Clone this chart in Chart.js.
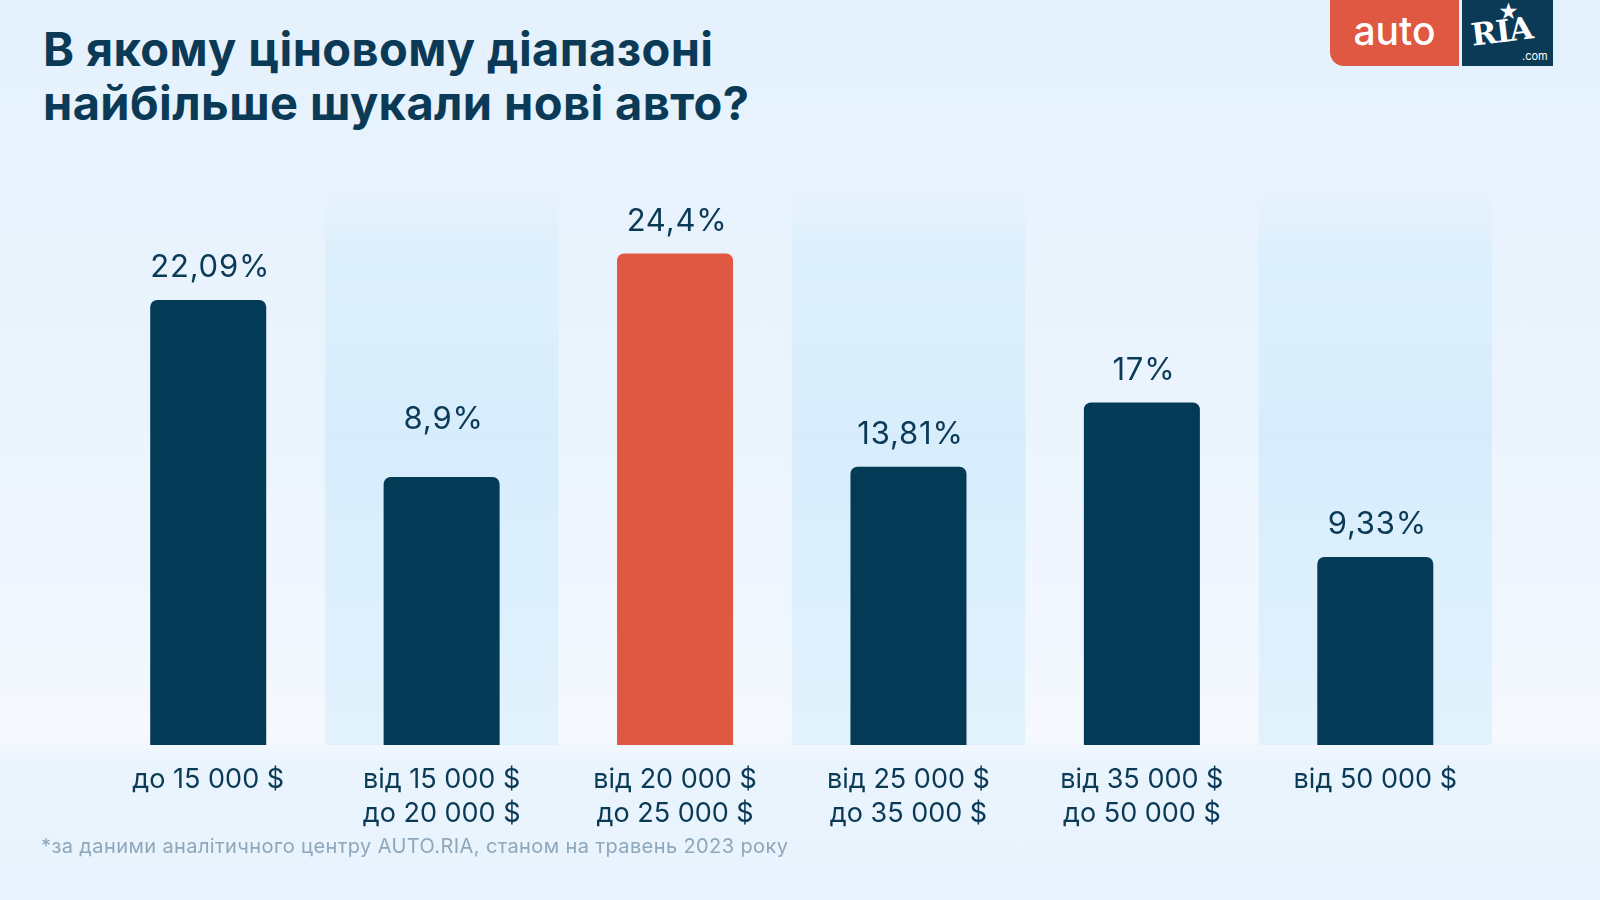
<!DOCTYPE html>
<html lang="uk">
<head>
<meta charset="utf-8">
<script src="https://cdn.jsdelivr.net/npm/chart.js@4.4.1/dist/chart.umd.min.js"></script>
<style>
  html, body { margin: 0; padding: 0; }
  body {
    width: 1600px; height: 900px; overflow: hidden; position: relative;
    font-family: Inter, "Noto Sans", sans-serif;
    background: linear-gradient(to bottom, #e4f1fc 0px, #ebf4fd 400px, #f1f7fe 650px, #f6f9fe 735px, #eaf4fd 765px, #e8f3fd 900px);
  }
  #title {
    position: absolute; left: 43px; top: 22px; margin: 0;
    font-family: Inter, sans-serif; font-weight: 700; font-size: 47px; line-height: 54px;
    color: #0b3a57; letter-spacing: 0.4px;
  }
  #foot {
    position: absolute; left: 41px; top: 834px;
    font-family: Inter, sans-serif; font-size: 20px; color: #8ea7bb; letter-spacing: 0.4px;
  }
  #logoAuto {
    position: absolute; left: 1330px; top: 0; width: 129px; height: 66px;
    background: #df5841; border-bottom-left-radius: 14px;
    color: #fff; font-family: Inter, sans-serif; font-weight: 500; font-size: 39px;
    text-align: center; line-height: 62px;
  }
  #logoRia {
    position: absolute; left: 1462px; top: 0; width: 91px; height: 66px;
    background: #0b3a57; color: #fff;
  }
  #logoRia .ria {
    position: absolute; left: 9px; top: 13px; font-family: "DejaVu Serif", serif; font-weight: 700;
    font-size: 31px; letter-spacing: -1px; transform: rotate(-7deg);
  }
  #logoRia .star { position: absolute; left: 36px; top: 0px; font-size: 20px; }
  #logoRia .com { position: absolute; left: 60px; top: 49px; font-size: 11px; font-family: Inter, sans-serif; }
  canvas { position: absolute; left: 0; top: 0; }
</style>
</head>
<body>
<h1 id="title">В якому ціновому діапазоні<br>найбільше шукали нові авто?</h1>
<div id="logoAuto">auto</div>
<div id="logoRia"><span class="star">★</span><span class="ria">RIA</span><span class="com">.com</span></div>
<canvas id="c" width="1600" height="900"></canvas>
<div id="foot">*за даними аналітичного центру AUTO.RIA, станом на травень 2023 року</div>
<script>
const categories = [
  ['до 15 000 $'],
  ['від 15 000 $', 'до 20 000 $'],
  ['від 20 000 $', 'до 25 000 $'],
  ['від 25 000 $', 'до 35 000 $'],
  ['від 35 000 $', 'до 50 000 $'],
  ['від 50 000 $']
];
// bar heights as drawn in the picture (percent units)
const barValues = [22.09, 13.3, 24.4, 13.81, 17, 9.33];
// value labels as printed above bars
const valueLabels = ['22,09%', '8,9%', '24,4%', '13,81%', '17%', '9,33%'];
const barColors = ['#033a55', '#033a55', '#df5841', '#033a55', '#033a55', '#033a55'];
const bandedCategories = [1, 3, 5];
const yMax = 27.6;

// label placement style (px above bar top), second label sits higher in the original
const labelGap = 32;
const labelExtraLift = { 1: 25 };

const bandPlugin = {
  id: 'bands',
  beforeDatasetsDraw(chart) {
    const { ctx, chartArea, scales } = chart;
    const x = scales.x;
    const step = (chartArea.right - chartArea.left) / categories.length;
    const g = ctx.createLinearGradient(0, chartArea.top, 0, chartArea.bottom);
    g.addColorStop(0, 'rgba(217,238,252,0)');
    g.addColorStop(0.12, 'rgba(217,238,252,0.8)');
    g.addColorStop(0.45, 'rgba(215,237,252,1)');
    g.addColorStop(1, 'rgba(226,242,253,1)');
    ctx.save();
    ctx.fillStyle = g;
    bandedCategories.forEach(i => {
      const cx = x.getPixelForValue(i);
      ctx.fillRect(cx - step / 2, chartArea.top, step, chartArea.bottom - chartArea.top);
    });
    ctx.restore();
  }
};

const valueLabelPlugin = {
  id: 'valueLabels',
  afterDatasetsDraw(chart) {
    const { ctx } = chart;
    const meta = chart.getDatasetMeta(0);
    ctx.save();
    ctx.font = '400 31px Inter, sans-serif';
    if ('letterSpacing' in ctx) ctx.letterSpacing = '0.8px';
    ctx.fillStyle = '#0b3a57';
    ctx.textAlign = 'center';
    ctx.textBaseline = 'middle';
    meta.data.forEach((bar, i) => {
      ctx.fillText(valueLabels[i], bar.x + 2, bar.y - labelGap - (labelExtraLift[i] || 0));
    });
    ctx.restore();
  }
};

new Chart(document.getElementById('c'), {
  type: 'bar',
  data: {
    labels: categories,
    datasets: [{
      data: barValues,
      backgroundColor: barColors,
      borderRadius: { topLeft: 7, topRight: 7, bottomLeft: 0, bottomRight: 0 },
      borderSkipped: 'bottom',
      barPercentage: 0.497,
      categoryPercentage: 1
    }]
  },
  options: {
    responsive: false,
    devicePixelRatio: 1,
    animation: false,
    layout: { padding: { left: 91.5, right: 108, top: 189, bottom: 0 } },
    plugins: { legend: { display: false }, tooltip: { enabled: false } },
    scales: {
      y: { display: false, min: 0, max: yMax },
      x: {
        grid: { display: false, drawTicks: false },
        border: { display: false },
        ticks: {
          color: '#0b3a57',
          font: { family: 'Inter, sans-serif', size: 27, weight: '400', lineHeight: 1.26 },
          padding: 18,
          maxRotation: 0,
          autoSkip: false
        },
        afterFit(scale) { scale.height = 155; }
      }
    }
  },
  plugins: [bandPlugin, valueLabelPlugin]
});
</script>
</body>
</html>
